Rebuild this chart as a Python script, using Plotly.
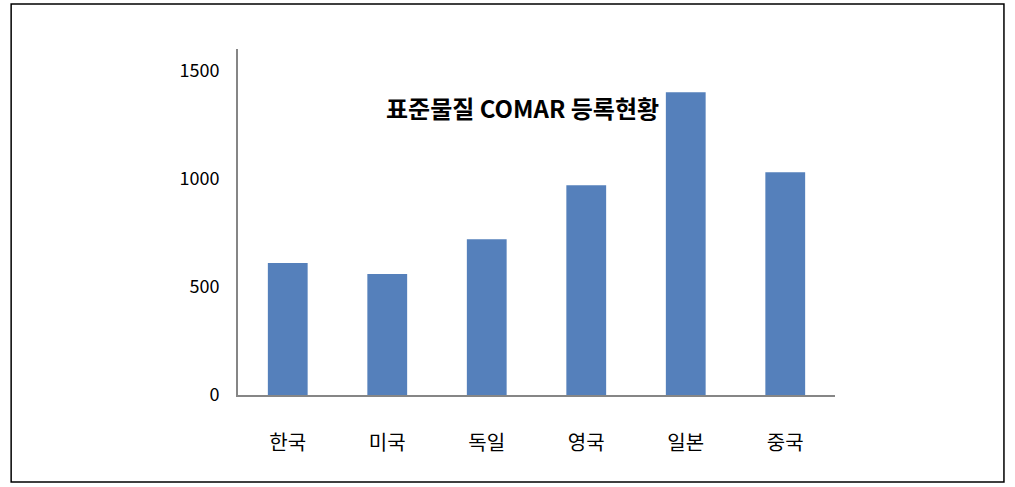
import plotly.graph_objects as go

categories = ["한국", "미국", "독일", "영국", "일본", "중국"]
values = [610, 560, 720, 970, 1400, 1030]
y_ticks = [0, 500, 1000, 1500]
title_text = "표준물질 COMAR 등록현황"

FONT = "Noto Sans CJK KR"

fig = go.Figure(go.Bar(x=categories, y=values, marker=dict(color="#5580BB", line=dict(width=0))))

fig.update_layout(
    width=1015, height=487,
    margin=dict(l=238, r=180, t=49, b=92),
    paper_bgcolor="white", plot_bgcolor="white",
    bargap=0.6,
    showlegend=False,
    font=dict(family=FONT, size=16, color="black"),
    xaxis=dict(
        showline=True, linecolor="#868686", linewidth=2,
        showgrid=False, ticks="", ticklabelstandoff=29,
        tickfont=dict(family=FONT, size=20, color="black"),
    ),
    yaxis=dict(
        range=[0, 1600], tickvals=y_ticks,
        showline=True, linecolor="#868686", linewidth=2,
        showgrid=False, ticks="", ticklabelstandoff=13, zeroline=False,
        tickfont=dict(family=FONT, size=18, color="black"),
    ),
    annotations=[dict(
        text="<b>" + title_text + "</b>", xref="paper", yref="paper",
        x=0.476, y=0.832, xanchor="center", yanchor="middle", showarrow=False,
        font=dict(family=FONT, size=24, color="black"),
    )],
    shapes=[dict(
        type="rect", xref="paper", yref="paper",
        x0=-0.380, x1=1.283, y0=-0.2514, y1=1.130,
        line=dict(color="black", width=1.5), layer="below",
    )],
)

fig.write_html("out.html")
